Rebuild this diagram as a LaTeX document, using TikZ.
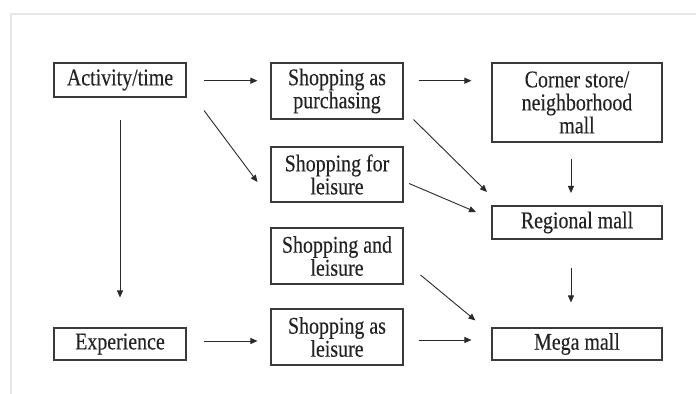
\documentclass[tikz,border=0pt]{standalone}
\usepackage{fontspec}
\setmainfont{Liberation Serif}[FakeStretch=0.83,FakeBold=0.2]
\usetikzlibrary{arrows.meta}
\definecolor{boxline}{HTML}{3A3A3A}
\definecolor{arrline}{HTML}{2A2A2A}
\definecolor{txt}{HTML}{222222}
\definecolor{frame}{HTML}{E6E6E6}
\begin{document}
\begin{tikzpicture}[x=1pt,y=-1pt,
  box/.style={draw=boxline,line width=1.1pt,inner sep=0pt,align=center,
    text=txt,font=\fontsize{24}{23}\selectfont},
  small/.style={box,minimum width=132pt},
  wide/.style={box,minimum width=170pt},
  conn/.style={draw=arrline,line width=0.9pt,-{Triangle[length=7pt,width=6pt]}}]
\useasboundingbox (0,0) rectangle (697,394);
\fill[white] (0,0) rectangle (697,394);
\draw[frame,line width=2pt] (10.5,394) -- (10.5,14) -- (696,14);
% nodes
\node[small,minimum height=34pt] (act) at (120,80) {Activity/time};
\node[small,minimum height=56pt] (sap) at (337,91) {Shopping as\\purchasing};
\node[wide,minimum height=79pt] (cor) at (577,102.5) {Corner store/\\neighborhood\\mall};
\node[small,minimum height=55pt] (sfl) at (337,174.5) {Shopping for\\leisure};
\node[wide,minimum height=33pt] (reg) at (577,222.5) {Regional mall};
\node[small,minimum height=56pt] (sal) at (337,256) {Shopping and\\leisure};
\node[small,minimum height=32pt] (exp) at (120,344) {Experience};
\node[small,minimum height=56pt] (sasl) at (337,337) {Shopping as\\leisure};
\node[wide,minimum height=32pt] (mega) at (577,344) {Mega mall};
% connectors
\draw[conn] ([shift={(17.5,0.7)}]act.east) -- ([shift={(-13,-10.3)}]sap.west);
\draw[conn] ([shift={(17.5,13)}]act.south east) -- ([shift={(-13,7.5)}]sfl.west);
\draw[conn] ([shift={(0,22)}]act.south) -- ([shift={(0,-30)}]exp.north);
\draw[conn] ([shift={(15,-10.3)}]sap.east) -- ([shift={(-20,-21.8)}]cor.west);
\draw[conn] ([shift={(10,0)}]sap.south east) -- ([shift={(-4.5,-13.5)}]reg.north west);
\draw[conn] ([shift={(5.5,9)}]sfl.east) -- ([shift={(-15.5,-10.5)}]reg.west);
\draw[conn] ([shift={(-6,16)}]cor.south) -- ([shift={(-6,-12.5)}]reg.north);
\draw[conn] ([shift={(-6,28)}]reg.south) -- ([shift={(-6,-25)}]mega.north);
\draw[conn] ([shift={(17,19)}]sal.east) -- ([shift={(-16,-7)}]mega.north west);
\draw[conn] ([shift={(17.5,-3)}]exp.east) -- ([shift={(-13,4)}]sasl.west);
\draw[conn] ([shift={(15,3)}]sasl.east) -- ([shift={(-20,-4)}]mega.west);
\end{tikzpicture}
\end{document}
